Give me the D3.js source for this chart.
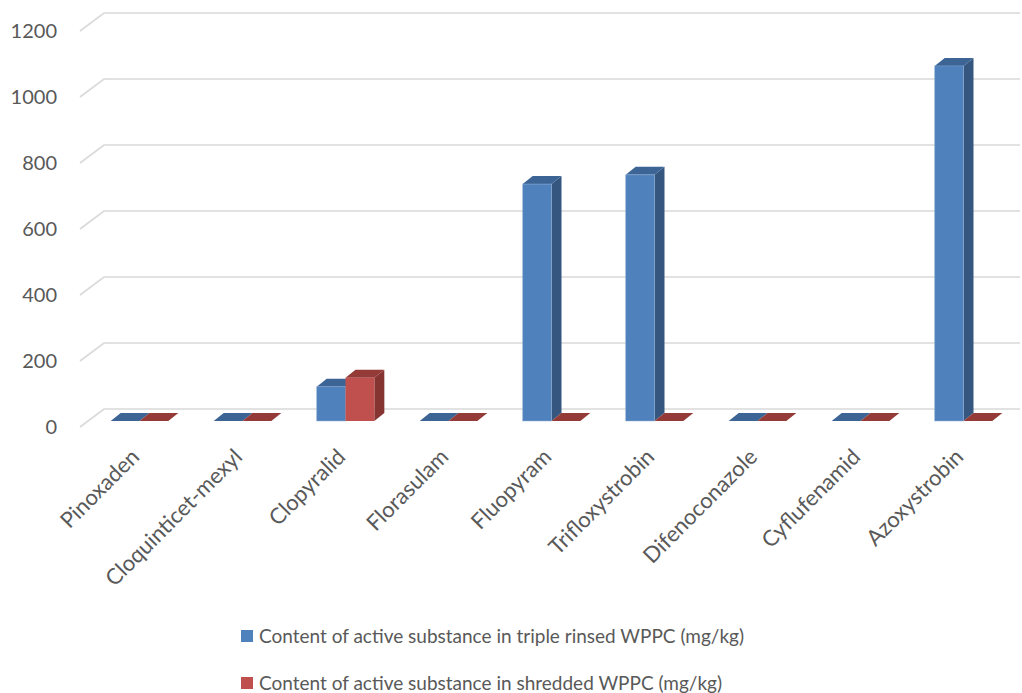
<!DOCTYPE html>
<html>
<head>
<meta charset="utf-8">
<script src="https://cdn.jsdelivr.net/npm/d3@7"></script>
<style>
  body { margin: 0; background: #fff; }
  text { font-family: Lato, "Open Sans", sans-serif; fill: #595959; }
</style>
</head>
<body>
<div id="chart"></div>
<script>
// data
const categories = ["Pinoxaden", "Cloquinticet-mexyl", "Clopyralid", "Florasulam", "Fluopyram",
                    "Trifloxystrobin", "Difenoconazole", "Cyflufenamid", "Azoxystrobin"];
const seriesNames = ["Content of active substance in triple rinsed WPPC (mg/kg)",
                     "Content of active substance in shredded WPPC (mg/kg)"];
const rinsed   = [0, 0, 104, 0, 718, 746, 0, 0, 1076];
const shredded = [0, 0, 131, 0, 0, 0, 0, 0, 0];
const yTicks = [0, 200, 400, 600, 800, 1000, 1200];

const width = 1022, height = 693;

const svg = d3.select("#chart")
    .append("svg")
    .attr("width", width)
    .attr("height", height);

// bar plane scale, back wall and front edge are offsets of it
const y = d3.scaleLinear().domain([0, 1200]).range([421, 25]);
const x0 = d3.scaleBand().domain(categories).range([88, 1015])
    .paddingInner(0.44).paddingOuter(0.22);
const x1 = d3.scaleBand().domain([0, 1]).range([0, x0.bandwidth()]);

const back = { dx: 16, dy: -12 };   // bar plane -> back wall
const front = { dx: -8, dy: 6 };    // bar plane -> front edge
const depth = { dx: 10, dy: -8 };   // bar thickness

const colors = [
    { face: "#4F81BD", top: "#3C6596", side: "#34567F" },
    { face: "#C0504D", top: "#943A37", side: "#853431" }
];

// gridlines
const grid = svg.append("g");
yTicks.forEach(t => {
    const yb = y(t) + back.dy, yf = y(t) + front.dy;
    const xb = x0.range()[0] + back.dx, xf = x0.range()[0] + front.dx;
    grid.append("path")
        .attr("d", `M${xf},${yf}L${xb},${yb}L${width - 2},${yb}`)
        .attr("fill", "none")
        .attr("stroke", "#d9d9d9")
        .attr("stroke-width", 1.6);
});

// tick labels
svg.append("g").selectAll("text")
    .data(yTicks).enter()
    .append("text")
    .attr("x", 57)
    .attr("y", d => y(d) + front.dy)
    .attr("dy", "0.35em")
    .attr("text-anchor", "end")
    .style("font-size", "20px")
    .text(d => d);

// bars
const series = [rinsed, shredded];
const bars = svg.append("g");
categories.forEach((c, i) => {
    series.forEach((s, k) => {
        const v = s[i];
        const x = x0(c) + x1(k), w = x1.bandwidth();
        const yt = y(v), yb = y(0);
        const col = colors[k];
        const g = bars.append("g");
        g.append("path")
            .attr("d", `M${x + w},${yt}L${x + w + depth.dx},${yt + depth.dy}L${x + w + depth.dx},${yb + depth.dy}L${x + w},${yb}Z`)
            .attr("fill", col.side);
        g.append("path")
            .attr("d", `M${x},${yt}L${x + depth.dx},${yt + depth.dy}L${x + w + depth.dx},${yt + depth.dy}L${x + w},${yt}Z`)
            .attr("fill", col.top);
        if (v > 0) {
            g.append("rect")
                .attr("x", x).attr("y", yt)
                .attr("width", w).attr("height", yb - yt)
                .attr("fill", col.face)
                .attr("stroke", "#8fb0d8")
                .attr("stroke-opacity", k === 0 ? 0.6 : 0)
                .attr("stroke-width", 0.8);
        }
    });
});

// category labels
svg.append("g").selectAll("text")
    .data(categories).enter()
    .append("text")
    .attr("transform", d => `translate(${x0(d) + x0.bandwidth() / 2 - 10},447) rotate(-45)`)
    .attr("text-anchor", "end")
    .attr("dy", "0.72em")
    .style("font-size", "22px")
    .text(d => d);

// legend
const legend = svg.append("g");
seriesNames.forEach((name, k) => {
    const ly = 636 + k * 47;
    legend.append("rect")
        .attr("x", 241).attr("y", ly - 6)
        .attr("width", 12).attr("height", 12)
        .attr("fill", colors[k].face);
    legend.append("text")
        .attr("x", 259).attr("y", ly)
        .attr("dy", "0.35em")
        .style("font-size", "19px")
        .text(name);
});
</script>
</body>
</html>
